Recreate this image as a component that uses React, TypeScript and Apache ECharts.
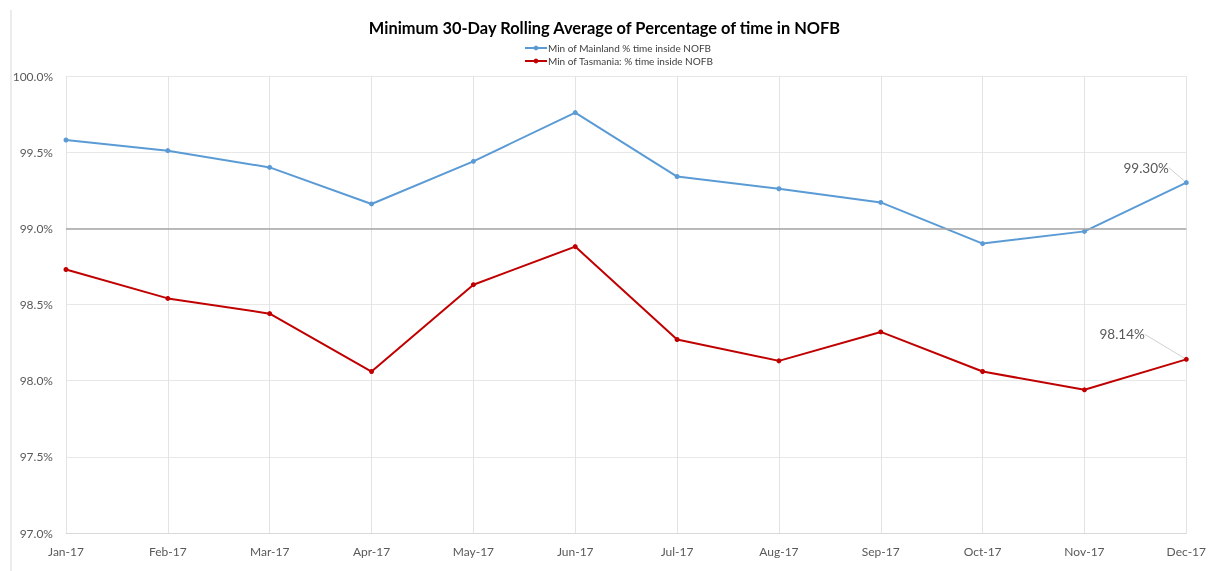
import React, { useEffect, useRef } from "react";
import * as echarts from "echarts";

const months = ["Jan-17", "Feb-17", "Mar-17", "Apr-17", "May-17", "Jun-17", "Jul-17", "Aug-17", "Sep-17", "Oct-17", "Nov-17", "Dec-17"];
const mainland = [99.58, 99.51, 99.40, 99.16, 99.44, 99.76, 99.34, 99.26, 99.17, 98.90, 98.98, 99.30];
const tasmania = [98.73, 98.54, 98.44, 98.06, 98.63, 98.88, 98.27, 98.13, 98.32, 98.06, 97.94, 98.14];
const targetLine = 99.0;
const seriesNames = ["Min of Mainland % time inside NOFB", "Min of Tasmania: % time inside NOFB"];
const titleText = "Minimum 30-Day Rolling Average of Percentage of time in NOFB";

const FONT = "Lato, 'Liberation Sans', sans-serif";

export default function App() {
  const ref = useRef<HTMLDivElement>(null);
  useEffect(() => {
    document.body.style.margin = "0";
    const chart = echarts.init(ref.current!, null, { renderer: "svg" });
    const lastIdx = months.length - 1;
    const mkData = (arr: number[]) =>
      arr.map((v, i) =>
        i === lastIdx
          ? {
              value: v,
              label: {
                show: true,
                position: "left",
                formatter: (p: any) => p.value.toFixed(2) + "%",
                color: "#595959",
                fontSize: 13.5,
                fontFamily: FONT,
              },
              labelLine: { show: true, lineStyle: { color: "#d0d0d0", width: 1 } },
            }
          : v
      );
    chart.setOption({
      animation: false,
      textStyle: { fontFamily: FONT },
      title: {
        text: titleText,
        left: "center",
        top: 14,
        textStyle: { fontSize: 16.4, fontWeight: "bold", color: "#000", fontFamily: FONT },
      },
      legend: {
        orient: "vertical",
        left: 519,
        top: 38,
        itemWidth: 22,
        itemHeight: 6,
        itemGap: 3,
        textStyle: { fontSize: 10, color: "#404040", fontFamily: FONT, padding: [0, 0, 0, -4] },
        data: seriesNames,
      },
      grid: { left: 66, right: 21, top: 76, bottom: 38, containLabel: false },
      xAxis: {
        type: "category",
        data: months,
        boundaryGap: false,
        axisLine: { lineStyle: { color: "#d9d9d9" } },
        axisTick: { show: false },
        axisLabel: { color: "#595959", fontSize: 12, margin: 12, fontFamily: FONT },
        splitLine: { show: true, lineStyle: { color: "#e3e3e3" } },
      },
      yAxis: {
        type: "value",
        min: 97,
        max: 100,
        interval: 0.5,
        axisLine: { show: false },
        axisTick: { show: false },
        axisLabel: {
          color: "#595959",
          fontSize: 12,
          margin: 13,
          fontFamily: FONT,
          formatter: (v: number) => v.toFixed(1) + "%",
        },
        splitLine: { show: true, lineStyle: { color: "#e8e8e8" } },
      },
      graphic: [
        { type: "line", shape: { x1: 11, y1: 10, x2: 11, y2: 571 }, style: { stroke: "#d9d9d9", lineWidth: 1 } },
      ],
      series: [
        {
          name: seriesNames[0],
          type: "line",
          data: mkData(mainland),
          symbol: "circle",
          symbolSize: 5,
          itemStyle: { color: "#5B9BD5" },
          lineStyle: { color: "#5B9BD5", width: 2 },
          labelLayout: (p: any) => (p.dataIndex === lastIdx ? { dx: -10, dy: -15 } : {}),
          markLine: {
            silent: true,
            symbol: "none",
            label: { show: false },
            lineStyle: { color: "#a6a6a6", width: 1.5, type: "solid" },
            data: [{ yAxis: targetLine }],
          },
          z: 3,
        },
        {
          name: seriesNames[1],
          type: "line",
          data: mkData(tasmania),
          symbol: "circle",
          symbolSize: 5,
          itemStyle: { color: "#C00000" },
          lineStyle: { color: "#C00000", width: 2 },
          labelLayout: (p: any) => (p.dataIndex === lastIdx ? { dx: -34, dy: -25 } : {}),
          z: 3,
        },
      ],
    });
    return () => chart.dispose();
  }, []);
  return <div ref={ref} style={{ position: "fixed", left: 0, top: 0, width: 1209, height: 571 }} />;
}
